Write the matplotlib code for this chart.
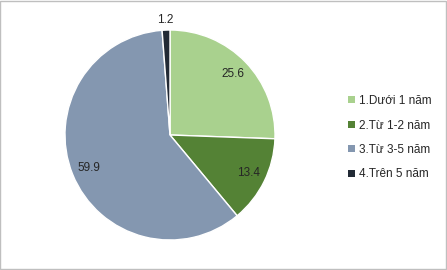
import matplotlib
matplotlib.use("Agg")
import matplotlib.pyplot as plt
import numpy as np
from matplotlib.patches import Rectangle

categories = ["1.Dưới 1 năm", "2.Từ 1-2 năm", "3.Từ 3-5 năm", "4.Trên 5 năm"]
values = [25.6, 13.4, 59.9, 1.2]
colors = ["#A9D18E", "#548235", "#8497B0", "#222A35"]

plt.rcParams['font.family'] = ['Liberation Sans', 'DejaVu Sans']

fig = plt.figure(figsize=(4.47, 2.70), dpi=100)
fig.patch.set_facecolor("white")
fig.add_artist(Rectangle((0.001, 0.002), 0.996, 0.994, transform=fig.transFigure,
                         fill=False, edgecolor="#BFBFBF", linewidth=1.0))

ax = fig.add_axes([0.1454, 0.1111, 0.4698, 0.7778])
wedges, _ = ax.pie(values, colors=colors, startangle=90, counterclock=False,
                   wedgeprops=dict(edgecolor="white", linewidth=1.0))
ax.set_xlim(-1, 1)
ax.set_ylim(-1, 1)
ax.set_aspect("equal")
ax.axis("off")

for w, v in zip(wedges, values):
    ang = np.deg2rad((w.theta1 + w.theta2) / 2)
    d = 1.1 if v < 5 else 0.83
    ax.text(d * np.cos(ang), d * np.sin(ang), f"{v:.1f}", ha="center", va="center",
            fontsize=8.5, color="#262626", clip_on=False)

handles = [Rectangle((0, 0), 1, 1, facecolor=c, edgecolor="none") for c in colors]
leg = fig.legend(handles, categories, loc="center left", bbox_to_anchor=(0.755, 0.49),
                 frameon=False, fontsize=8.5, handlelength=0.55, handleheight=0.55,
                 handletextpad=0.4, labelspacing=1.05, labelcolor="#262626")

fig.savefig("out.png", dpi=100)
